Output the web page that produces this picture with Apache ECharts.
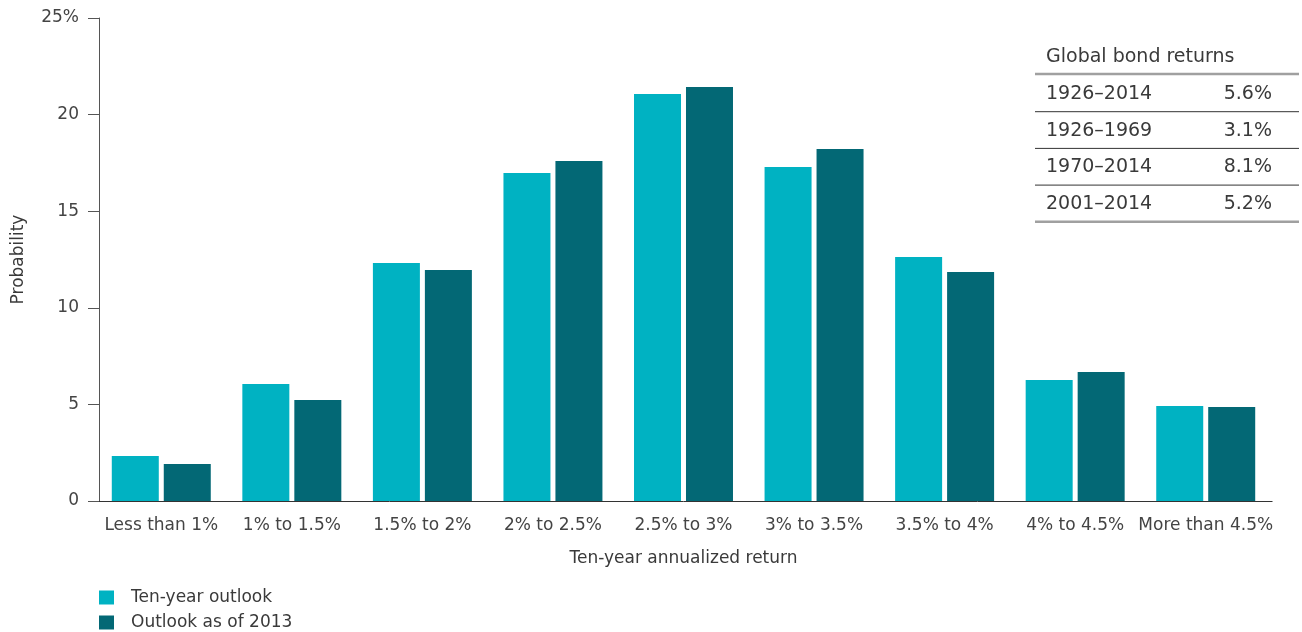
<!DOCTYPE html>
<html>
<head>
<meta charset="utf-8">
<script src="https://cdn.jsdelivr.net/npm/echarts@6/dist/echarts.min.js"></script>
<style>html,body{margin:0;padding:0;background:#fff;}#c{width:1302px;height:632px;}</style>
</head>
<body>
<div id="c"></div>
<script>
const categories = ['Less than 1%', '1% to 1.5%', '1.5% to 2%', '2% to 2.5%', '2.5% to 3%', '3% to 3.5%', '3.5% to 4%', '4% to 4.5%', 'More than 4.5%'];
const tenYearOutlook = [2.33, 6.06, 12.32, 16.98, 21.07, 17.29, 12.63, 6.26, 4.92];
const outlook2013 = [1.92, 5.23, 11.96, 17.6, 21.43, 18.22, 11.85, 6.68, 4.87];
const yTicks = [0, 5, 10, 15, 20, 25];
const tableTitle = 'Global bond returns';
const tablePeriods = ['1926\u20132014', '1926\u20131969', '1970\u20132014', '2001\u20132014'];
const tableReturns = ['5.6%', '3.1%', '8.1%', '5.2%'];

const FONT = '"DejaVu Sans", sans-serif';
const TXT = '#3a3a3a';
const C1 = '#00b2c2';
const C2 = '#036875';

const chart = echarts.init(document.getElementById('c'));

const graphics = [];
graphics.push({type:'text', x:1046, y:57, style:{text:tableTitle, font:'19px ' + FONT, fill:TXT, textVerticalAlign:'middle'}});
graphics.push({type:'line', shape:{x1:1035, y1:74, x2:1299, y2:74}, style:{stroke:'#a0a0a0', lineWidth:2.5}});
tablePeriods.forEach((p, i) => {
  const yMid = 94 + i * 36.7;
  graphics.push({type:'text', x:1046, y:yMid, style:{text:p, font:'19px ' + FONT, fill:TXT, textVerticalAlign:'middle', textAlign:'left'}});
  graphics.push({type:'text', x:1272, y:yMid, style:{text:tableReturns[i], font:'19px ' + FONT, fill:TXT, textVerticalAlign:'middle', textAlign:'right'}});
  const ly = 111.7 + i * 36.7;
  const last = i === tablePeriods.length - 1;
  graphics.push({type:'line', shape:{x1:1035, y1:ly, x2:1299, y2:ly}, style:{stroke: last ? '#a0a0a0' : '#333', lineWidth: last ? 2.5 : 1}});
});
graphics.push({type:'line', shape:{x1:1269, y1:501.5, x2:1272.5, y2:501.5}, style:{stroke:'#333', lineWidth:1}});

const legendText = {fontSize: 17, color: TXT, fontFamily: FONT, padding: [0, 0, 0, 12]};
chart.setOption({
  animation: false,
  textStyle: {fontFamily: FONT},
  grid: {left: 96, right: 31, top: 18, bottom: 131, containLabel: false},
  legend: [
    {left: 99, top: 589, padding: 0, itemWidth: 15, itemHeight: 14, icon: 'rect', textStyle: legendText, data: ['Ten-year outlook']},
    {left: 99, top: 614, padding: 0, itemWidth: 15, itemHeight: 14, icon: 'rect', textStyle: legendText, data: ['Outlook as of 2013']}
  ],
  xAxis: {
    type: 'category', data: categories,
    name: 'Ten-year annualized return', nameLocation: 'middle', nameGap: 49,
    nameTextStyle: {fontSize: 17, color: TXT, fontFamily: FONT},
    axisLine: {show: true, lineStyle: {color: '#333', width: 1}},
    axisTick: {show: false},
    axisLabel: {fontSize: 17, color: '#444', margin: 16, interval: 0, fontFamily: FONT}
  },
  yAxis: {
    type: 'value', min: 0, max: 25, interval: 5, offset: -3,
    name: 'Probability', nameLocation: 'middle', nameGap: 72, nameRotate: 90,
    nameTextStyle: {fontSize: 17, color: TXT, fontFamily: FONT},
    axisLine: {show: true, lineStyle: {color: '#555', width: 1}},
    axisTick: {show: true, inside: false, length: 11, lineStyle: {color: '#555'}},
    splitLine: {show: false},
    axisLabel: {fontSize: 17, color: '#444', margin: 20, fontFamily: FONT,
      formatter: v => yTicks.includes(v) ? (v === 25 ? '25%' : String(v)) : ''}
  },
  series: [
    {name: 'Ten-year outlook', type: 'bar', data: tenYearOutlook, barWidth: 47, barGap: '10.6%', itemStyle: {color: C1}},
    {name: 'Outlook as of 2013', type: 'bar', data: outlook2013, barWidth: 47, barGap: '10.6%', itemStyle: {color: C2}}
  ],
  graphic: graphics
});
</script>
</body>
</html>
